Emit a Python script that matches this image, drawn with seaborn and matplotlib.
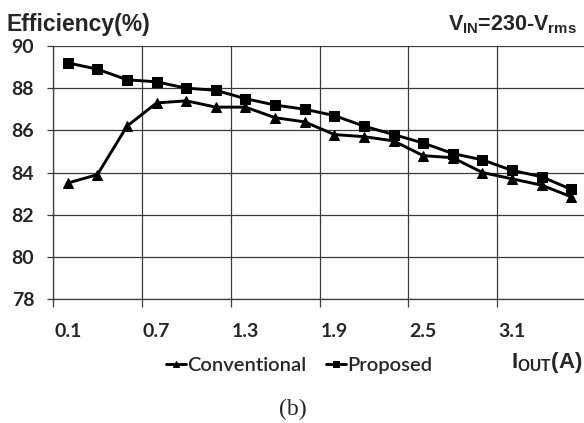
import matplotlib
matplotlib.use("Agg")
import matplotlib.pyplot as plt
import numpy as np
import pandas as pd
import seaborn as sns

# output current (A), one category every 0.2 A
CURRENTS = ["0.1", "0.3", "0.5", "0.7", "0.9", "1.1", "1.3", "1.5", "1.7",
            "1.9", "2.1", "2.3", "2.5", "2.7", "2.9", "3.1", "3.3", "3.5"]
CONVENTIONAL = [83.5, 83.9, 86.2, 87.3, 87.4, 87.1, 87.1, 86.6, 86.4,
                85.8, 85.7, 85.5, 84.8, 84.7, 84.0, 83.7, 83.4, 82.85]
PROPOSED = [89.2, 88.9, 88.4, 88.3, 88.0, 87.9, 87.5, 87.2, 87.0,
            86.7, 86.2, 85.8, 85.4, 84.9, 84.6, 84.1, 83.8, 83.2]
Y_TICKS = [78, 80, 82, 84, 86, 88, 90]

sns.set_style("white")
plt.rcParams["font.family"] = ["Lato", "DejaVu Sans"]
plt.rcParams["mathtext.fontset"] = "custom"
plt.rcParams["mathtext.rm"] = "Liberation Sans:bold"
plt.rcParams["mathtext.it"] = "Liberation Sans:bold"
plt.rcParams["mathtext.bf"] = "Liberation Sans:bold"

n = len(CURRENTS)
df = pd.DataFrame({
    "idx": list(range(n)) * 2,
    "eff": CONVENTIONAL + PROPOSED,
    "series": ["Conventional"] * n + ["Proposed"] * n,
})

fig = plt.figure(figsize=(5.84, 4.23), dpi=100)
ax = fig.add_axes([53 / 584, 1 - 299 / 423, 533 / 584, 253 / 423])

sns.lineplot(data=df, x="idx", y="eff", hue="series", style="series",
             markers={"Conventional": "^", "Proposed": "s"}, dashes=False,
             palette={"Conventional": "black", "Proposed": "black"},
             linewidth=2.1, markersize=6.8, markeredgecolor="black",
             ax=ax, legend=True, zorder=3)

ax.set_xlim(-0.5, n - 0.5)
ax.set_ylim(78, 90)
ax.set_xticks(np.arange(0, n, 3))
ax.set_xticklabels(CURRENTS[::3])
ax.set_xticks(np.arange(-0.5, n, 3), minor=True)
ax.set_yticks(Y_TICKS)
ax.set_xlabel("")
ax.set_ylabel("")

grid_kw = dict(color="#3a3a3a", linewidth=0.9)
ax.grid(False)
ax.xaxis.grid(True, which="minor", **grid_kw)
ax.yaxis.grid(True, which="major", **grid_kw)
ax.set_axisbelow(True)

ax.tick_params(axis="x", which="major", length=0, pad=17,
               labelsize=14)
ax.tick_params(axis="x", which="minor", length=6, width=0.9,
               color="#3a3a3a", direction="out", bottom=True)
ax.tick_params(axis="y", length=4.5, width=0.9, color="#3a3a3a",
               pad=9, labelsize=14, left=True)
for lab in ax.get_xticklabels() + ax.get_yticklabels():
    lab.set_fontweight("bold")

for side in ("top", "right"):
    ax.spines[side].set_visible(False)
ax.spines["left"].set_color("#3a3a3a")
ax.spines["left"].set_linewidth(0.9)
ax.spines["bottom"].set_color("#3a3a3a")
ax.spines["bottom"].set_linewidth(0.9)

handles, labels = ax.get_legend_handles_labels()
ax.get_legend().remove()
fig.legend(handles, labels, loc="center", bbox_to_anchor=(299 / 584, 1 - 365 / 423),
           ncol=2, frameon=False, prop={"size": 14.5, "weight": "semibold"},
           handlelength=1.0, handletextpad=0.05, columnspacing=1.0,
           markerscale=0.7)

fig.text(7 / 584, 1 - 24 / 423, "Efficiency(%)", family="Liberation Sans",
         fontweight="bold", fontsize=16.5, va="center", ha="left")
fig.text(577 / 584, 1 - 25 / 423, r"$V_{IN}$=230-$V_{rms}$", family="Liberation Sans",
         fontweight="bold", fontsize=15.5, va="center", ha="right")
fig.text(582 / 584, 1 - 362 / 423, r"$I_{OUT}$(A)", family="Liberation Sans",
         fontweight="bold", fontsize=16, va="center", ha="right")
fig.text(293 / 584, 1 - 409 / 423, "(b)", family="Liberation Serif",
         fontsize=17, va="center", ha="center")

fig.savefig("out.png", dpi=100)
